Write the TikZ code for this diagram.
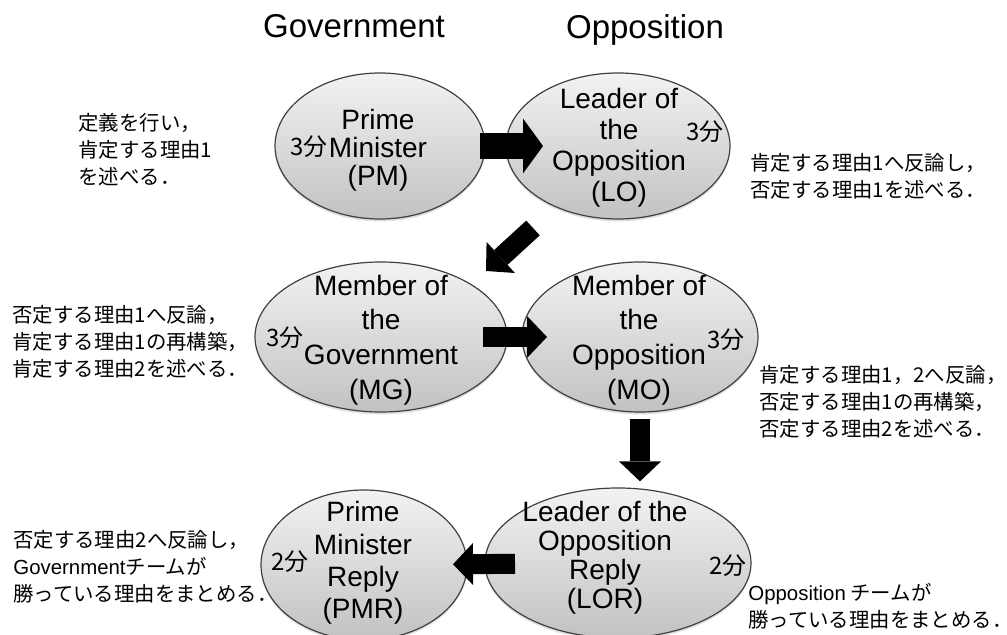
\documentclass[tikz,border=0pt]{standalone}
\usepackage{fontspec}
\setmainfont{Liberation Sans}
\newfontfamily\jp{Noto Sans CJK JP}
\usetikzlibrary{arrows.meta,shapes.geometric,shadows}
\definecolor{ovaltop}{gray}{0.95}
\definecolor{ovalbot}{gray}{0.76}

\begin{document}
\begin{tikzpicture}[x=0.5pt,y=-0.5pt,
	turnoval/.style={ellipse, draw=black!75, line width=0.6pt, top color=ovaltop, bottom color=ovalbot,
		drop shadow={opacity=0.25, shadow xshift=0pt, shadow yshift=-1.2pt}},
	roletext/.style={align=center, inner sep=0pt, font=\fontsize{14}{15.5}\selectfont},
	timetag/.style={inner sep=0pt, font=\jp\fontsize{12}{12}\selectfont},
	notetext/.style={anchor=west, align=left, inner sep=0pt, font=\jp\fontsize{10.2}{13.5}\selectfont},
	teamhead/.style={inner sep=0pt, font=\fontsize{16.5}{18}\selectfont},
	blockarrow/.style={line width=10pt, -{Triangle[length=10pt, width=21pt, line width=0pt]}}]
	\useasboundingbox (0,0) rectangle (1007,635);

	\node[teamhead] (gov) at (354,26) {Government};
	\node[teamhead] (opp) at (645,30) {Opposition};

	\node[turnoval, minimum width=105pt, minimum height=73pt] (pm) at (380,146) {};
	\node[turnoval, minimum width=112pt, minimum height=73pt] (lo) at (618,146) {};
	\node[turnoval, minimum width=126pt, minimum height=75pt] (mg) at (381,337) {};
	\node[turnoval, minimum width=118pt, minimum height=75pt] (mo) at (640,337) {};
	\node[turnoval, minimum width=103pt, minimum height=75pt] (pmr) at (364,565) {};
	\node[turnoval, minimum width=133pt, minimum height=75pt] (lor) at (618,563) {};

	\node[roletext, font=\fontsize{14}{14}\selectfont] (pmtext) at (378,150) {Prime\\Minister\\(PM)};
	\node[roletext] (lotext) at (619,148) {Leader of\\the\\Opposition\\(LO)};
	\node[roletext, font=\fontsize{14}{17.3}\selectfont] (mgtext) at (381,340) {Member of\\the\\Government\\(MG)};
	\node[roletext, font=\fontsize{14}{17.3}\selectfont] (motext) at (639,340) {Member of\\the\\Opposition\\(MO)};
	\node[roletext, font=\fontsize{14}{16.2}\selectfont] (pmrtext) at (363,563) {Prime\\Minister\\Reply\\(PMR)};
	\node[roletext, font=\fontsize{14}{14.5}\selectfont] (lortext) at (605,558) {Leader of the\\Opposition\\Reply\\(LOR)};

	\node[timetag] (pmtime) at (309,147) {3分};
	\node[timetag] (lotime) at (705,132) {3分};
	\node[timetag] (mgtime) at (285,338) {3分};
	\node[timetag] (motime) at (726,340) {3分};
	\node[timetag] (pmrtime) at (290,562) {2分};
	\node[timetag] (lortime) at (728,566) {2分};

	\node[notetext] (pmnote) at (78,150) {定義を行い，\\肯定する理由1\\を述べる．};
	\node[notetext] (lonote) at (750,176) {肯定する理由1へ反論し，\\否定する理由1を述べる．};
	\node[notetext] (mgnote) at (12,342) {否定する理由1へ反論，\\肯定する理由1の再構築，\\肯定する理由2を述べる．};
	\node[notetext] (monote) at (759,402) {肯定する理由1，2へ反論，\\否定する理由1の再構築，\\否定する理由2を述べる．};
	\node[notetext] (pmrnote) at (13,567) {否定する理由2へ反論し，\\{\rmfamily Government}チームが\\勝っている理由をまとめる．};
	\node[notetext] (lornote) at (748,606) {{\rmfamily Opposition} チームが\\勝っている理由をまとめる．};

	\coordinate (lotail) at (533,228);
	\coordinate (mghead) at (486,271);

	\draw[blockarrow, line width=13pt, -{Triangle[length=10pt, width=27.5pt, line width=0pt]},
		shorten <=50pt, shorten >=37.5pt] (pm.center) -- (lo.center);
	\draw[blockarrow] (lotail) -- (mghead);
	\draw[blockarrow, shorten <=51pt, shorten >=46.5pt] (mg.center) -- (mo.center);
	\draw[blockarrow, shorten <=3pt, shorten >=3pt] (mo.south) -- (mo.south |- lor.north);
	\draw[blockarrow, shorten <=51.5pt, shorten >=44.5pt] (lor.center) -- (pmr.center);
\end{tikzpicture}
\end{document}
